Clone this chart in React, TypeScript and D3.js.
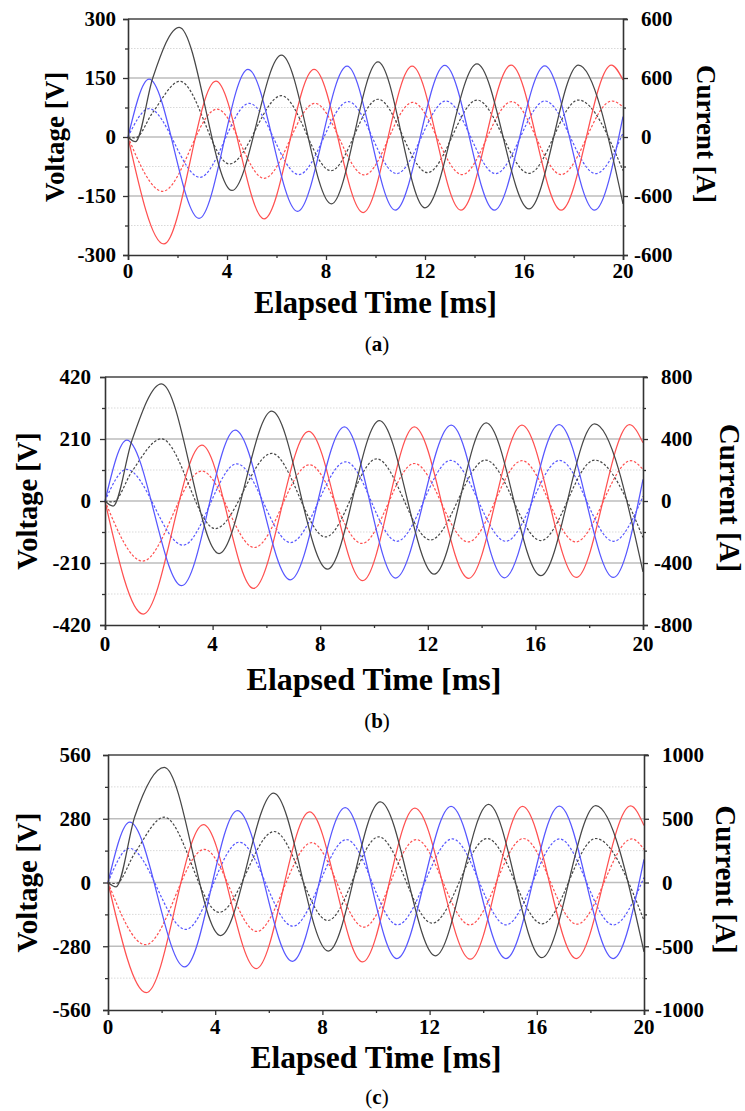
import React, { useRef, useEffect } from 'react';
import * as d3 from 'd3';

type Pt = [number, number];

// time axis (ms)
const timeTicks = [0, 4, 8, 12, 16, 20];
const timeMinor = [2, 6, 10, 14, 18];

// ---- panel (a) ----
const aVoltTicks = [-300, -150, 0, 150, 300];
const aCurrTicks = [-600, -300, 0, 300, 600];
const aCurrLabels = ['-600', '-600', '0', '600', '600'];
const aRedV: Pt[] = [[0, 0], [1.45, -272], [3.55, 142], [5.5, -208], [7.52, 172], [9.5, -192], [11.48, 180], [13.45, -186], [15.48, 183], [17.5, -186], [19.53, 183], [20, 145]];
const aBlueV: Pt[] = [[0, 0], [0.85, 147], [2.87, -207], [4.85, 172], [6.85, -189], [8.85, 180], [10.8, -186], [12.8, 182], [14.8, -186], [16.84, 181], [18.85, -186], [20, 52]];
const aBlackV: Pt[] = [[0, 0], [0.3, -12], [1.0, 150], [2.07, 279], [4.2, -136], [6.2, 208], [8.22, -170], [10.1, 191], [12.0, -180], [14.1, 186], [16.2, -183], [18.2, 183], [20, -170]];
const aRedI: Pt[] = [[0, 0], [1.4, -276], [3.6, 142], [5.5, -210], [7.55, 171], [9.55, -193], [11.5, 176], [13.5, -191], [15.5, 180], [17.5, -191], [19.55, 183], [20, 154]];
const aBlueI: Pt[] = [[0, 0], [0.85, 144], [2.9, -205], [4.9, 171], [6.9, -191], [8.9, 180], [10.85, -186], [12.85, 183], [14.85, -186], [16.85, 183], [18.9, -186], [20, 20]];
const aBlackI: Pt[] = [[0, 0], [0.3, -4], [1.0, 125], [2.1, 283], [4.1, -137], [6.2, 210], [8.2, -171], [10.1, 192], [12.1, -181], [14.1, 188], [16.2, -185], [18.2, 188], [20, -171]];

// ---- panel (b) ----
const bVoltTicks = [-420, -210, 0, 210, 420];
const bCurrTicks = [-800, -400, 0, 400, 800];
const bCurrLabels = ['-800', '-400', '0', '400', '800'];
const bRedV: Pt[] = [[0, 0], [1.42, -383], [3.6, 189], [5.52, -296], [7.57, 236], [9.58, -270], [11.5, 251], [13.52, -262], [15.5, 257], [17.52, -259], [19.5, 259], [20, 197]];
const bBlueV: Pt[] = [[0, 0], [0.81, 206], [2.85, -287], [4.84, 240], [6.89, -267], [8.9, 251], [10.8, -261], [12.87, 257], [14.85, -260], [16.88, 259], [18.9, -259], [20, 73]];
const bBlackV: Pt[] = [[0, 0], [0.3, -17], [1.0, 205], [2.1, 397], [4.24, -178], [6.2, 304], [8.27, -231], [10.2, 272], [12.24, -248], [14.17, 265], [16.2, -253], [18.2, 261], [20, -240]];
const bRedI: Pt[] = [[0, 0], [1.4, -388], [3.6, 193], [5.55, -300], [7.6, 234], [9.55, -274], [11.5, 242], [13.5, -264], [15.5, 260], [17.5, -264], [19.55, 260], [20, 204]];
const bBlueI: Pt[] = [[0, 0], [0.8, 204], [2.9, -285], [4.9, 240], [6.9, -268], [8.95, 253], [10.85, -260], [12.85, 262], [14.9, -260], [16.9, 262], [18.9, -260], [20, 30]];
const bBlackI: Pt[] = [[0, 0], [0.3, -6], [1.0, 190], [2.1, 401], [4.1, -178], [6.2, 307], [8.2, -232], [10.1, 272], [12.1, -251], [14.15, 264], [16.2, -255], [18.2, 264], [20, -236]];

// ---- panel (c) ----
const cVoltTicks = [-560, -280, 0, 280, 560];
const cCurrTicks = [-1000, -500, 0, 500, 1000];
const cCurrLabels = ['-1000', '-500', '0', '500', '1000'];
const cRedV: Pt[] = [[0, 0], [1.43, -484], [3.56, 254], [5.53, -378], [7.52, 310], [9.5, -349], [11.45, 327], [13.52, -337], [15.47, 334], [17.47, -334], [19.5, 337], [20, 250]];
const cBlueV: Pt[] = [[0, 0], [0.81, 265], [2.86, -371], [4.83, 316], [6.88, -346], [8.85, 329], [10.78, -334], [12.8, 334], [14.85, -334], [16.84, 335], [18.85, -334], [20, 102]];
const cBlackV: Pt[] = [[0, 0], [0.3, -19], [1.0, 290], [2.1, 506], [4.2, -233], [6.18, 393], [8.22, -301], [10.16, 354], [12.22, -322], [14.2, 343], [16.19, -330], [18.2, 338], [20, -305]];
const cRedI: Pt[] = [[0, 0], [1.4, -488], [3.6, 260], [5.55, -384], [7.6, 312], [9.55, -350], [11.5, 337], [13.5, -332], [15.5, 345], [17.5, -327], [19.55, 342], [20, 260]];
const cBlueI: Pt[] = [[0, 0], [0.8, 268], [2.9, -368], [4.9, 316], [6.9, -343], [8.9, 337], [10.8, -332], [12.85, 342], [14.85, -332], [16.85, 342], [18.85, -332], [20, 40]];
const cBlackI: Pt[] = [[0, 0], [0.3, -8], [1.0, 230], [2.1, 512], [4.15, -234], [6.2, 400], [8.2, -298], [10.1, 358], [12.1, -319], [14.15, 345], [16.2, -324], [18.2, 345], [20, -298]];

const RED = '#ff5050';
const BLUE = '#5757ff';
const BLACK = '#474747';
const FONT = '"Liberation Serif", "Times New Roman", serif';

const panels = [
  { tag: 'a', left: 128, right: 623, top: 19, bottom: 255, vTicks: aVoltTicks, iTicks: aCurrTicks, iLabels: aCurrLabels,
    volt: [aRedV, aBlueV, aBlackV], curr: [aRedI, aBlueI, aBlackI],
    leftGap: 12, botOff: 23, yTitleX: 64, yTitleSize: 27, xTitleY: 313, xTitleSize: 30.5, rTitleX: 697, rTitleSize: 27, tagY: 351 },
  { tag: 'b', left: 105, right: 643, top: 377, bottom: 625, vTicks: bVoltTicks, iTicks: bCurrTicks, iLabels: bCurrLabels,
    volt: [bRedV, bBlueV, bBlackV], curr: [bRedI, bBlueI, bBlackI],
    leftGap: 14, botOff: 26, yTitleX: 37, yTitleSize: 28.5, xTitleY: 690, xTitleSize: 32, rTitleX: 720, rTitleSize: 29, tagY: 728 },
  { tag: 'c', left: 108, right: 644, top: 755, bottom: 1010, vTicks: cVoltTicks, iTicks: cCurrTicks, iLabels: cCurrLabels,
    volt: [cRedV, cBlueV, cBlackV], curr: [cRedI, cBlueI, cBlackI],
    leftGap: 17, botOff: 24, yTitleX: 37, yTitleSize: 29, xTitleY: 1068, xTitleSize: 31.5, rTitleX: 716, rTitleSize: 29, tagY: 1104 },
];

function App() {
  const ref = useRef<SVGSVGElement>(null);

  useEffect(() => {
    const svg = d3.select(ref.current);
    svg.selectAll('*').remove();
    const colors = [RED, BLUE, BLACK];

    panels.forEach((p) => {
      const vMax = p.vTicks[p.vTicks.length - 1];
      const iMax = p.iTicks[p.iTicks.length - 1];
      const x = d3.scaleLinear().domain([0, 20]).range([p.left, p.right]);
      const yV = d3.scaleLinear().domain([-vMax, vMax]).range([p.bottom, p.top]);
      const yI = d3.scaleLinear().domain([-iMax, iMax]).range([p.bottom, p.top]);
      const g = svg.append('g');

      // minor dotted grid
      const minor = [-0.75, -0.25, 0.25, 0.75].map((f) => f * vMax);
      g.selectAll('.gmin').data(minor).enter().append('line')
        .attr('x1', p.left).attr('x2', p.right)
        .attr('y1', (d) => yV(d)).attr('y2', (d) => yV(d))
        .attr('stroke', '#d9d9d9').attr('stroke-width', 1).attr('stroke-dasharray', '1.5,1.5');
      // major grid
      g.selectAll('.gmaj').data(p.vTicks.slice(1, -1)).enter().append('line')
        .attr('x1', p.left).attr('x2', p.right)
        .attr('y1', (d) => yV(d)).attr('y2', (d) => yV(d))
        .attr('stroke', '#bdbdbd').attr('stroke-width', 1.5);

      // currents (dotted), then voltages (solid)
      const lineV = d3.line<Pt>().x((d) => x(d[0])).y((d) => yV(d[1])).curve(d3.curveMonotoneX);
      const lineI = d3.line<Pt>().x((d) => x(d[0])).y((d) => yI(d[1])).curve(d3.curveMonotoneX);
      p.curr.forEach((s, k) => {
        g.append('path').attr('d', lineI(s)).attr('fill', 'none')
          .attr('stroke', colors[k]).attr('stroke-width', 1.2).attr('stroke-dasharray', '2.5,1.8');
      });
      p.volt.forEach((s, k) => {
        g.append('path').attr('d', lineV(s)).attr('fill', 'none')
          .attr('stroke', colors[k]).attr('stroke-width', 1.25);
      });

      // frame top
      g.append('line').attr('x1', p.left).attr('x2', p.right + 4).attr('y1', p.top).attr('y2', p.top)
        .attr('stroke', '#444').attr('stroke-width', 1.5);

      // left axis
      g.append('g').attr('transform', `translate(${p.left},0)`)
        .call(d3.axisLeft(yV).tickValues(p.vTicks).tickSize(5).tickFormat(() => ''));
      g.append('g').attr('transform', `translate(${p.left},0)`)
        .call(d3.axisLeft(yV).tickValues(minor).tickSize(3).tickFormat(() => ''))
        .select('.domain').remove();
      // right axis
      g.append('g').attr('transform', `translate(${p.right},0)`)
        .call(d3.axisRight(yI).tickValues(p.iTicks).tickSize(5).tickFormat(() => ''));
      g.append('g').attr('transform', `translate(${p.right},0)`)
        .call(d3.axisRight(yI).tickValues([-0.75, -0.25, 0.25, 0.75].map((f) => f * iMax)).tickSize(3).tickFormat(() => ''))
        .select('.domain').remove();
      // bottom axis
      g.append('g').attr('transform', `translate(0,${p.bottom})`)
        .call(d3.axisBottom(x).tickValues(timeTicks).tickSize(5).tickFormat(() => ''));
      g.append('g').attr('transform', `translate(0,${p.bottom})`)
        .call(d3.axisBottom(x).tickValues(timeMinor).tickSize(3).tickFormat(() => ''))
        .select('.domain').remove();
      g.selectAll('.domain').attr('stroke', '#333').attr('stroke-width', 1.6);
      g.selectAll('.tick line').attr('stroke', '#333').attr('stroke-width', 1.3);

      // tick labels
      const txt = (sel: any) => sel.attr('font-family', FONT).attr('font-weight', 'bold').attr('fill', '#000');
      g.selectAll('.lv').data(p.vTicks).enter().append('text')
        .call(txt).attr('font-size', 21).attr('text-anchor', 'end')
        .attr('x', p.left - p.leftGap).attr('y', (d) => yV(d)).attr('dy', '0.35em')
        .text((d) => String(d));
      g.selectAll('.li').data(p.iTicks).enter().append('text')
        .call(txt).attr('font-size', 21).attr('text-anchor', 'start')
        .attr('x', (d, i) => p.right + (p.iLabels[i].startsWith('-') ? 11 : 18))
        .attr('y', (d) => yI(d)).attr('dy', '0.35em')
        .text((d, i) => p.iLabels[i]);
      g.selectAll('.lt').data(timeTicks).enter().append('text')
        .call(txt).attr('font-size', 21).attr('text-anchor', 'middle')
        .attr('x', (d) => x(d)).attr('y', p.bottom + p.botOff)
        .text((d) => String(d));

      // axis titles
      const midY = (p.top + p.bottom) / 2;
      g.append('text').call(txt).attr('font-size', p.yTitleSize).attr('text-anchor', 'middle')
        .attr('transform', `translate(${p.yTitleX},${midY}) rotate(-90)`).text('Voltage [V]');
      g.append('text').call(txt).attr('font-size', p.rTitleSize).attr('text-anchor', 'middle')
        .attr('transform', `translate(${p.rTitleX},${midY - 3}) rotate(90)`).text('Current [A]');
      g.append('text').call(txt).attr('font-size', p.xTitleSize).attr('text-anchor', 'middle')
        .attr('x', (p.left + p.right) / 2).attr('y', p.xTitleY).text('Elapsed Time [ms]');

      // panel tag
      const tag = g.append('text').attr('font-family', FONT).attr('font-size', 21).attr('fill', '#000')
        .attr('text-anchor', 'middle').attr('x', 377).attr('y', p.tagY);
      tag.append('tspan').text('(');
      tag.append('tspan').attr('font-weight', 'bold').text(p.tag);
      tag.append('tspan').text(')');
    });
  }, []);

  return (
    <svg ref={ref} width={745} height={1111}
      style={{ position: 'absolute', left: 0, top: 0, background: '#fff' }} />
  );
}

export default App;
